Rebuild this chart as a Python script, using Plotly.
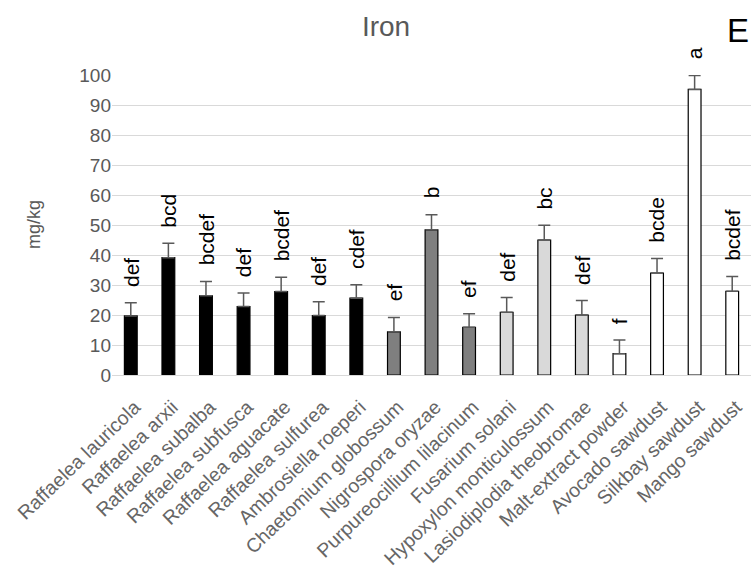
import plotly.graph_objects as go

categories = ["Raffaelea lauricola", "Raffaelea arxii", "Raffaelea subalba", "Raffaelea subfusca",
              "Raffaelea aguacate", "Raffaelea sulfurea", "Ambrosiella roeperi", "Chaetomium globossum",
              "Nigrospora oryzae", "Purpureocillium lilacinum", "Fusarium solani",
              "Hypoxylon monticulossum", "Lasiodiplodia theobromae", "Malt-extract powder",
              "Avocado sawdust", "Silkbay sawdust", "Mango sawdust"]
means = [19.7, 39.1, 26.4, 22.8, 27.8, 19.8, 25.6, 14.4, 48.4, 15.9, 20.9, 45.0, 20.0, 7.1, 34.0, 95.2, 27.9]
errors = [4.4, 4.8, 4.8, 4.5, 4.8, 4.6, 4.5, 4.8, 5.0, 4.5, 4.9, 4.9, 4.8, 4.6, 4.8, 4.6, 4.9]
letters = ["def", "bcd", "bcdef", "def", "bcdef", "def", "cdef", "ef", "b", "ef", "def", "bc",
           "def", "f", "bcde", "a", "bcdef"]
groups = ["fungi"] * 7 + ["dark"] * 3 + ["light"] * 3 + ["media"] * 4
group_colors = {"fungi": "#000000", "dark": "#7f7f7f", "light": "#d9d9d9", "media": "#ffffff"}

W, H = 752, 571
L, R, T, B = 112, 1, 75, 196
FONT = "Liberation Sans, Arial, sans-serif"

fig = go.Figure()
fig.add_trace(go.Bar(
    x=categories, y=means,
    marker=dict(color=[group_colors[g] for g in groups], line=dict(color="#000000", width=1.2)),
    error_y=dict(type="data", array=errors, arrayminus=[0] * len(errors), symmetric=False,
                 color="#595959", thickness=1.5, width=6),
    width=0.34,
))

for c, m, e, t in zip(categories, means, errors, letters):
    fig.add_annotation(x=c, y=m + e, text=t, textangle=-90, showarrow=False,
                       xanchor="center", yanchor="bottom", yshift=14,
                       font=dict(family=FONT, size=21, color="#000000"))

plot_w = W - L - R
plot_h = H - T - B
fig.add_annotation(xref="paper", yref="paper", x=(738 - L) / plot_w, y=1 + (T - 30) / plot_h,
                   text="E", showarrow=False, xanchor="center", yanchor="middle",
                   font=dict(family=FONT, size=33, color="#000000"))
fig.add_annotation(xref="paper", yref="paper", x=(34 - L) / plot_w, y=0.5,
                   text="mg/kg", textangle=-90, showarrow=False, xanchor="center", yanchor="middle",
                   font=dict(family=FONT, size=18, color="#595959"))

fig.update_layout(
    width=W, height=H,
    paper_bgcolor="#ffffff", plot_bgcolor="#ffffff",
    margin=dict(l=L, r=R, t=T, b=B, autoexpand=False),
    showlegend=False,
    title=dict(text="Iron", x=386 / W, xref="container", xanchor="center",
               y=1 - 26 / H, yref="container", yanchor="middle",
               font=dict(family=FONT, size=28, color="#595959")),
    font=dict(family=FONT, color="#595959"),
)
fig.update_yaxes(range=[0, 100], dtick=10, showgrid=True, gridcolor="#d9d9d9", gridwidth=1.3,
                 zeroline=False, showline=False, ticks="", automargin=False,
                 tickfont=dict(size=19, color="#595959"))
fig.update_xaxes(tickangle=-44, showline=True, linecolor="#d9d9d9", linewidth=1.3, ticks="",
                 automargin=False, ticklabelstandoff=12, ticklabelshift=4,
                 tickfont=dict(size=19.5, color="#666666"))

fig.write_html("out.html", config={"displayModeBar": False},
               post_script="document.body.style.margin='0';document.body.style.overflow='hidden';")
